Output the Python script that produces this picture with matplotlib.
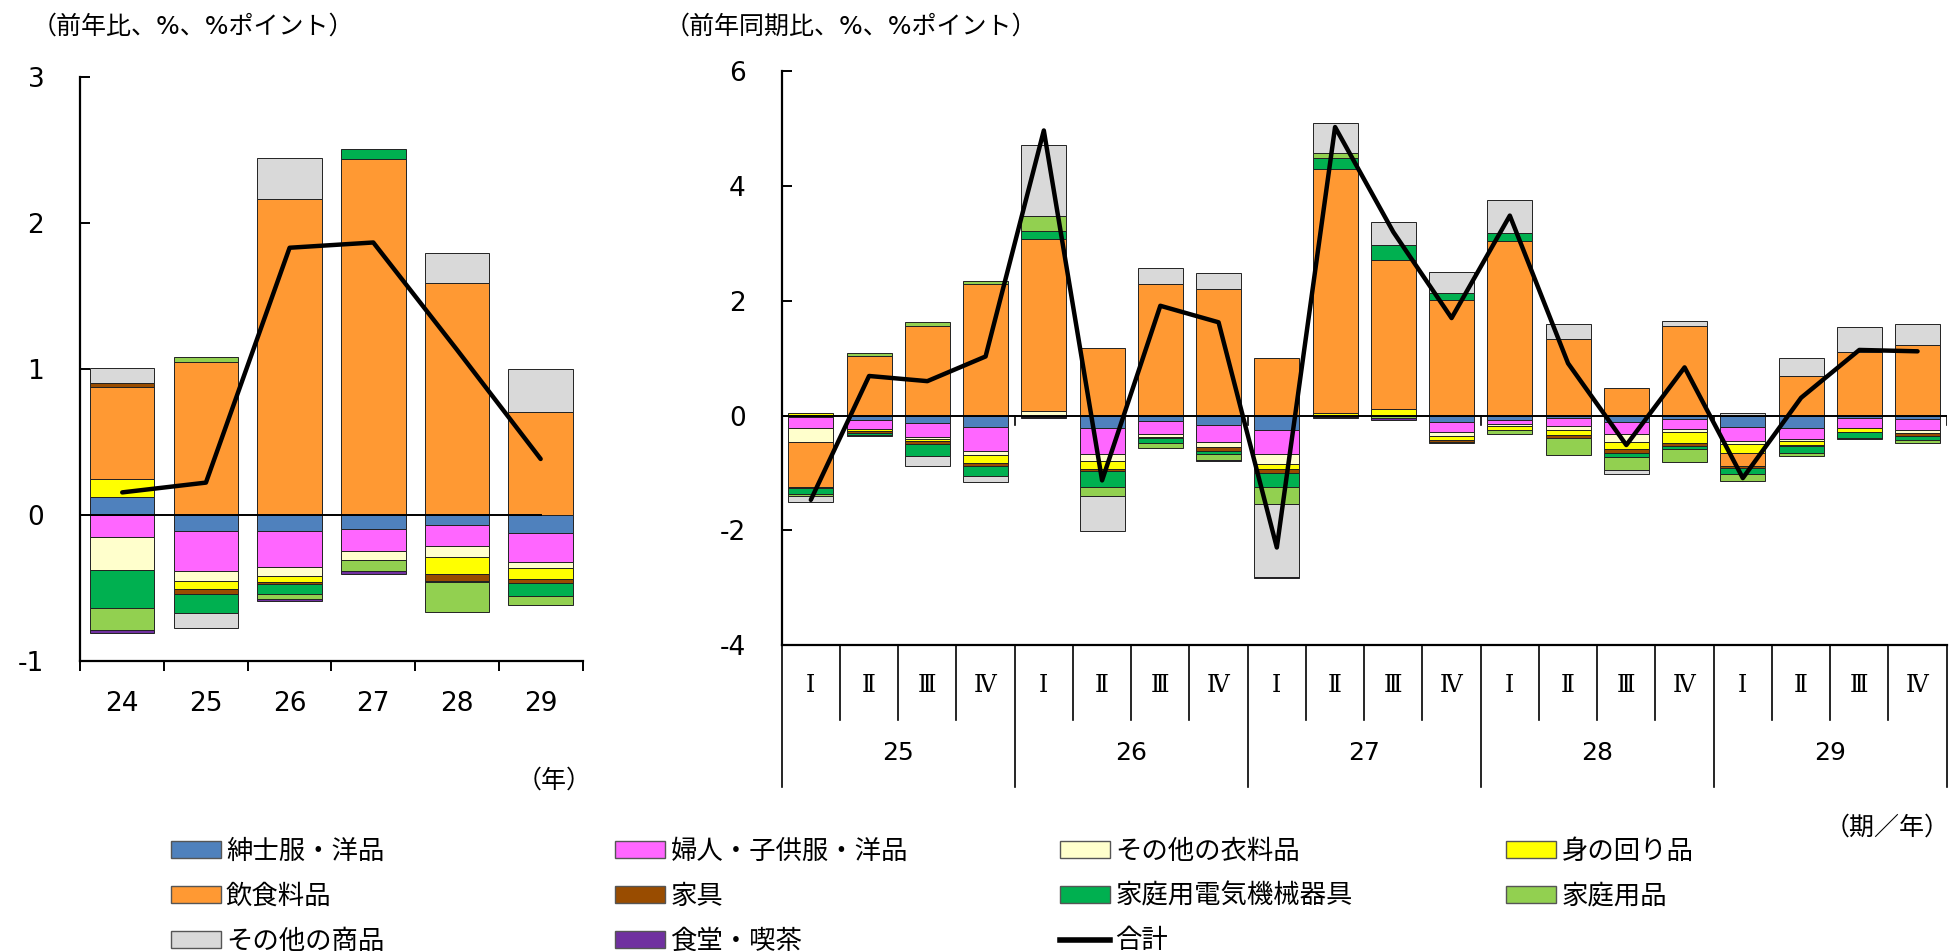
import numpy as np
import matplotlib
matplotlib.use("Agg")
import matplotlib.pyplot as plt
from matplotlib.patches import Patch
from matplotlib.lines import Line2D

plt.rcParams['font.family'] = ['DejaVu Sans', 'Noto Sans CJK JP']
plt.rcParams['axes.unicode_minus'] = False

# ---------------- data ----------------
series_names = ['紳士服・洋品', '婦人・子供服・洋品', 'その他の衣料品', '身の回り品', '飲食料品',
                '家具', '家庭用電気機械器具', '家庭用品', 'その他の商品', '食堂・喫茶']
series_colors = ['#4F81BD', '#FF66FF', '#FFFFCC', '#FFFF00', '#FF9933',
                 '#994C00', '#00B050', '#92D050', '#D9D9D9', '#7030A0']
total_name = '合計'

years = ['24', '25', '26', '27', '28', '29']
men_y = [0.12, -0.113, -0.113, -0.095, -0.067, -0.122]
women_y = [-0.15, -0.27, -0.248, -0.156, -0.15, -0.199]
othcl_y = [-0.232, -0.073, -0.058, -0.061, -0.076, -0.043]
acc_y = [0.125, -0.05, -0.043, 0.0, -0.116, -0.073]
food_y = [0.633, 1.043, 2.162, 2.434, 1.587, 0.703]
furn_y = [0.025, -0.034, -0.012, 0.0, -0.046, -0.034]
appl_y = [-0.26, -0.13, -0.07, 0.073, -0.006, -0.086]
hh_y = [-0.15, 0.037, -0.03, -0.076, -0.205, -0.064]
oth_y = [0.104, -0.107, 0.284, 0.0, 0.208, 0.297]
rest_y = [-0.018, 0.0, -0.015, -0.02, 0.0, 0.0]
total_y = [0.153, 0.22, 1.829, 1.865, 1.13, 0.382]

quarters = ['Ⅰ', 'Ⅱ', 'Ⅲ', 'Ⅳ'] * 5
q_years = ['25', '26', '27', '28', '29']
men_q = [-0.03, -0.07, -0.122, -0.2, 0, -0.21, -0.093, -0.17, -0.244, 0, 0, -0.11, -0.07, -0.04, -0.116, -0.064, -0.198, -0.21, -0.04, -0.058]
women_q = [-0.19, -0.157, -0.26, -0.42, 0, -0.465, -0.22, -0.29, -0.43, 0, 0, -0.169, -0.076, -0.134, -0.21, -0.169, -0.244, -0.19, -0.169, -0.186]
othcl_q = [-0.244, 0, -0.02, -0.064, 0.08, -0.122, -0.058, -0.087, -0.163, 0, 0, -0.07, -0.035, -0.07, -0.128, -0.052, -0.058, -0.047, 0, -0.052]
acc_q = [0.047, -0.04, -0.035, -0.145, 0, -0.128, -0.02, 0, -0.087, 0.04, 0.12, -0.081, -0.064, -0.087, -0.122, -0.186, -0.145, -0.058, -0.076, 0]
food_q = [-0.785, 1.03, 1.564, 2.30, 3.0, 1.175, 2.30, 2.21, 1.01, 4.257, 2.584, 2.015, 3.05, 1.34, 0.475, 1.564, -0.227, 0.69, 1.105, 1.222]
furn_q = [-0.01, -0.03, -0.06, -0.047, -0.02, -0.047, 0, -0.07, -0.076, -0.02, 0, -0.03, 0, -0.052, -0.07, -0.058, -0.047, -0.03, 0, -0.058]
appl_q = [-0.105, -0.045, -0.2, -0.17, 0.14, -0.273, -0.08, -0.058, -0.244, 0.195, 0.265, 0.125, 0.125, 0, -0.076, -0.058, -0.093, -0.116, -0.1, -0.064]
hh_q = [-0.04, 0.06, 0.07, 0.04, 0.257, -0.151, -0.1, -0.093, -0.29, 0.093, -0.05, -0.02, -0.076, -0.297, -0.22, -0.227, -0.134, -0.058, 0, -0.052]
oth_q = [-0.11, 0, -0.186, -0.116, 1.245, -0.616, 0.272, 0.272, -1.28, 0.514, 0.405, 0.366, 0.59, 0.25, -0.07, 0.086, 0.05, 0.32, 0.444, 0.366]
rest_q = [0, -0.015, 0, 0, -0.02, 0, 0, -0.02, -0.015, -0.03, -0.02, 0, 0, 0, 0, 0, 0, 0, -0.015, 0]
total_q = [-1.47, 0.69, 0.6, 1.03, 4.97, -1.13, 1.914, 1.626, -2.3, 5.03, 3.2, 1.7, 3.486, 0.91, -0.514, 0.84, -1.09, 0.31, 1.144, 1.12]

left_series = [men_y, women_y, othcl_y, acc_y, food_y, furn_y, appl_y, hh_y, oth_y, rest_y]
right_series = [men_q, women_q, othcl_q, acc_q, food_q, furn_q, appl_q, hh_q, oth_q, rest_q]

# ---------------- helpers ----------------
W, H = 1953, 951
fig = plt.figure(figsize=(W / 100, H / 100), dpi=100)

BAR_W = 0.77
EDGE = '#222222'


def stack(ax, series):
    n = len(series[0])
    x = np.arange(n)
    pos = np.zeros(n)
    neg = np.zeros(n)
    for vals, col in zip(series, series_colors):
        v = np.asarray(vals, dtype=float)
        bottom = np.where(v >= 0, pos, neg)
        m = v != 0
        ax.bar(x[m], v[m], bottom=bottom[m], width=BAR_W, color=col,
               edgecolor=EDGE, linewidth=0.7, zorder=2)
        pos += np.clip(v, 0, None)
        neg += np.clip(v, None, 0)


def style_axes(ax):
    for s in ['top', 'right']:
        ax.spines[s].set_visible(False)
    for s in ['left', 'bottom']:
        ax.spines[s].set_linewidth(1.6)
    ax.tick_params(axis='y', direction='in', length=7, width=1.4, pad=26, labelsize=19)


def fx(px):
    return px / W


def fy(py):
    return 1 - py / H


# ---------------- left chart ----------------
axL = fig.add_axes([fx(80.4), fy(660.7), fx(582.5 - 80.4), (660.7 - 76.8) / H])
stack(axL, left_series)
xl = np.arange(len(years))
axL.plot([-0.5, xl[-1]], [0, 0], color='black', lw=1.4, zorder=3)
axL.plot(xl, total_y, color='black', lw=3.2, zorder=4, solid_capstyle='round')
axL.set_xlim(-0.5, len(years) - 0.5)
axL.set_ylim(-1, 3)
axL.set_yticks([-1, 0, 1, 2, 3])
style_axes(axL)
axL.set_xticks(np.arange(len(years) + 1) - 0.5)
axL.set_xticklabels([])
axL.tick_params(axis='x', which='major', direction='out', length=7, width=1.4)
axL.set_xticks(xl, minor=True)
axL.set_xticklabels(years, minor=True)
axL.tick_params(axis='x', which='minor', length=0, pad=22, labelsize=19)

fig.text(fx(32), fy(27), '（前年比、%、%ポイント）', fontsize=18, va='center', ha='left')
fig.text(fx(554), fy(781), '（年）', fontsize=18, va='center', ha='center')

# ---------------- right chart ----------------
axR = fig.add_axes([fx(781.7), fy(645), fx(1946.7 - 781.7), (645 - 71.4) / H])
stack(axR, right_series)
xr = np.arange(len(quarters))
axR.axhline(0, color='black', lw=1.4, zorder=3)
axR.plot(xr, total_q, color='black', lw=3.2, zorder=4, solid_capstyle='round')
axR.set_xlim(-0.5, len(quarters) - 0.5)
axR.set_ylim(-4, 6)
axR.set_yticks([-4, -2, 0, 2, 4, 6])
style_axes(axR)
axR.set_xticks([])
# small marks on zero line at year boundaries
for b in np.arange(3.5, len(quarters), 4):
    axR.plot([b, b], [0, -0.16], color='black', lw=1.2, zorder=3)

trans = axR.get_xaxis_transform()
for i, q in enumerate(quarters):
    axR.text(i, -0.07, q, transform=trans, ha='center', va='center', fontsize=17,
             family=['DejaVu Serif', 'Noto Sans CJK JP'])
for b in np.arange(-0.5, len(quarters), 1):
    if (b + 0.5) % 4 == 0:
        continue
    axR.plot([b, b], [0, -0.131], transform=trans, color='black', lw=1.2, clip_on=False)
for k, yv in enumerate(q_years):
    axR.text(4 * k + 1.5, -0.189, yv, transform=trans, ha='center', va='center', fontsize=18)
for b in np.arange(-0.5, len(quarters) + 0.5, 4):
    axR.plot([b, b], [0, -0.248], transform=trans, color='black', lw=1.2, clip_on=False)

fig.text(fx(665), fy(27), '（前年同期比、%、%ポイント）', fontsize=18, va='center', ha='left')
fig.text(fx(1950), fy(828), '（期／年）', fontsize=18, va='center', ha='right')

# ---------------- legend ----------------
handles = [Patch(facecolor=c, edgecolor='#555555', linewidth=1.0) for c in series_colors]
handles.append(Line2D([0], [0], color='black', lw=4))
labels = series_names + [total_name]
col_x = [170.6, 615, 1060, 1506]
for c in range(4):
    idx = list(range(c, len(labels), 4))
    fig.legend([handles[i] for i in idx], [labels[i] for i in idx],
               loc='upper left', bbox_to_anchor=(fx(col_x[c]), fy(839)),
               frameon=False, fontsize=19, handlelength=1.9, handleheight=0.6,
               handletextpad=0.2, labelspacing=0.71, borderpad=0, borderaxespad=0)

fig.savefig('out.png', dpi=100)
